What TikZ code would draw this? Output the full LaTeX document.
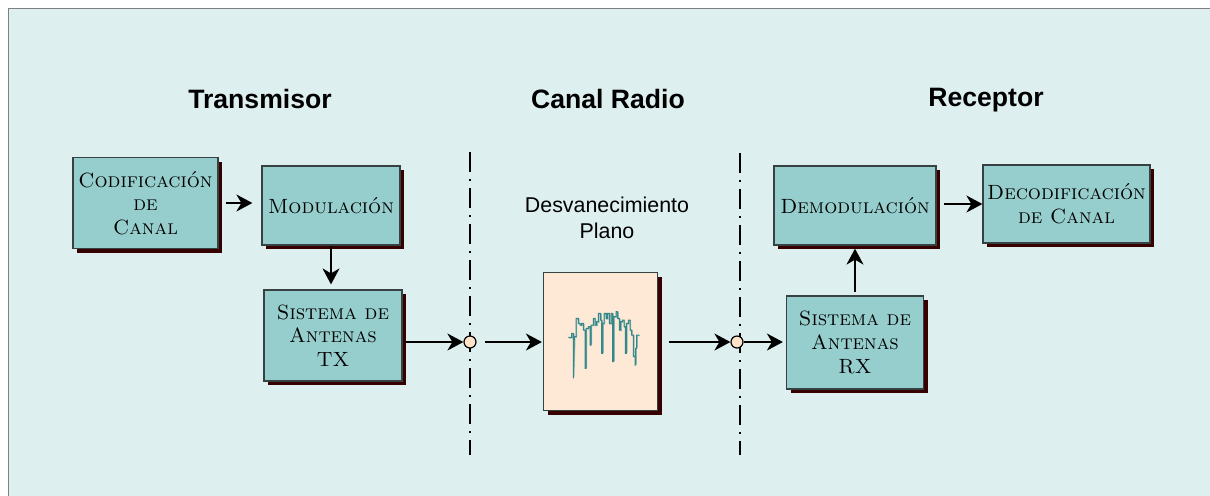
\documentclass[tikz,border=0pt]{standalone}
\usepackage{fontspec}
\newfontfamily\sansfuente{Liberation Sans}
\usepackage{xcolor}
\usepackage{tikz}
\usetikzlibrary{positioning,calc,shadows,arrows.meta}
\definecolor{FondoCanal}{RGB}{222,239,239}

\begin{document}
\begin{tikzpicture}[x=0.5pt, y=-0.5pt,
					bloque/.style={
						draw=borde,
						fill=verdeagua,
						line width=0.6pt,
						inner sep=0pt,
						align=center,
						font=\fontsize{10.3}{11.8}\selectfont,
						drop shadow={shadow xshift=2pt, shadow yshift=-2pt, fill=sombra, opacity=1}
					},
					flecha/.style={draw=black, line width=0.9pt, -{Stealth[length=8pt, width=8.5pt, inset=2.5pt]}},
					union/.style={circle, draw=black, fill=durazno, line width=0.6pt, minimum size=6pt, inner sep=0pt},
					divisor/.style={line width=0.8pt, dash pattern=on 10pt off 3.5pt on 1pt off 3.5pt},
					titulo/.style={font=\sansfuente\bfseries\fontsize{13.3}{15}\selectfont}
					]
					\definecolor{verdeagua}{RGB}{150,205,205}
					\definecolor{borde}{RGB}{55,65,65}
					\definecolor{sombra}{RGB}{55,0,0}
					\definecolor{durazno}{RGB}{255,226,200}
					\definecolor{piel}{RGB}{253,233,214}
					\definecolor{senal}{RGB}{55,135,135}
					
					\useasboundingbox (0,0) rectangle (1210,495);
					\draw[fill=FondoCanal, draw=gray, line width=0.5pt] (8,8) rectangle (1220,505);
					
					% titulos
					\node[titulo] (ttx) at (260,99) {Transmisor};
					\node[titulo] (tcanal) at (608,99) {Canal Radio};
					\node[titulo] (trx) at (986,100) {Receptor};
					
					\node[bloque, minimum width=72.5pt, minimum height=45.5pt] (cod) at (145.5,203) {\textsc{Codificación}\\\textsc{de}\\\textsc{Canal}};
					\node[bloque, minimum width=69pt, minimum height=39.5pt] (mod) at (331,205.5) {\textsc{Modulación}};
					\node[bloque, minimum width=69pt, minimum height=45.5pt] (stx) at (333,335.5) {\textsc{Sistema de}\\\textsc{Antenas}\\\textsc{TX}};
					
					\node[font=\sansfuente\fontsize{10.7}{12.8}\selectfont, align=center] (desv) at (607,218) {Desvanecimiento\\Plano};
					\node[bloque, fill=piel, minimum width=57pt, minimum height=69pt] (canal) at (600.5,341.5) {};
					
					\node[bloque, minimum width=68.5pt, minimum height=46.5pt] (srx) at (855,342.5) {\textsc{Sistema de}\\\textsc{Antenas}\\\textsc{RX}};
					\node[bloque, minimum width=81pt, minimum height=39.5pt] (dem) at (855,205.5) {\textsc{Demodulación}};
					\node[bloque, minimum width=83.5pt, minimum height=39pt] (dec) at (1066.5,204) {\textsc{Decodificación}\\\textsc{de Canal}};
					
					% lineas de separacion
					\coordinate (d1a) at (470,152);
					\coordinate (d1b) at (470,455);
					\coordinate (d2a) at (740,153);
					\coordinate (d2b) at (740,455);
					\draw[divisor] (d1a) -- (d1b);
					\draw[divisor] (d2a) -- (d2b);
					
					\node[union] (j1) at (470,342) {};
					\node[union] (j2) at (737,342) {};
					
					% senal con desvanecimiento
					\begin{scope}[shift={(530,260)}, scale=1/3]
						\draw[senal!55, line width=0.5pt] plot coordinates {(117,234) (127,234) (127,222) (132,222) (132,350) (135,232) (140,232) (140,177) (147,177) (147,192) (152,192) (152,197) (157,197) (157,192) (162,192) (162,212) (167,212) (167,322) (170,322) (170,207) (177,207) (177,202) (182,202) (182,252) (185,252) (185,197) (192,197) (192,177) (197,177) (197,197) (202,197) (202,187) (207,187) (207,162) (214,162) (214,182) (217,182) (217,277) (220,277) (220,192) (224,192) (224,162) (230,162) (230,177) (234,177) (234,162) (240,162) (240,192) (245,192) (245,162) (250,162) (250,302) (253,302) (253,172) (260,172) (260,157) (265,157) (265,177) (270,177) (270,212) (274,212) (274,187) (279,187) (279,182) (284,182) (284,202) (288,202) (288,277) (291,277) (291,192) (297,192) (297,182) (302,182) (302,212) (307,212) (307,227) (312,227) (312,287) (317,287) (317,312) (319,312) (319,262) (322,262) (322,227) (330,227)};
						\draw[senal, line width=0.5pt] plot coordinates {(115,232) (125,232) (125,220) (130,220) (130,355) (133,230) (138,230) (138,175) (145,175) (145,190) (150,190) (150,195) (155,195) (155,190) (160,190) (160,210) (165,210) (165,325) (168,325) (168,205) (175,205) (175,200) (180,200) (180,255) (183,255) (183,195) (190,195) (190,175) (195,175) (195,195) (200,195) (200,185) (205,185) (205,160) (212,160) (212,180) (215,180) (215,280) (218,280) (218,190) (222,190) (222,160) (228,160) (228,175) (232,175) (232,160) (238,160) (238,190) (243,190) (243,160) (248,160) (248,305) (251,305) (251,170) (258,170) (258,155) (263,155) (263,175) (268,175) (268,210) (272,210) (272,185) (277,185) (277,180) (282,180) (282,200) (286,200) (286,280) (289,280) (289,190) (295,190) (295,180) (300,180) (300,210) (305,210) (305,225) (310,225) (310,290) (315,290) (315,315) (317,315) (317,265) (320,265) (320,225) (328,225)};
					\end{scope}
					
					\draw[flecha, shorten <=3.5pt, shorten >=4.5pt] (cod.east) -- (cod.east -| mod.west);
					\draw[flecha, shorten >=2.5pt] (mod.south) -- (mod.south |- stx.north);
					\draw[flecha, shorten <=1.5pt] (stx.east |- j1) -- (j1.west);
					\draw[flecha, shorten <=4pt, shorten >=0.5pt] (j1.east) -- (canal.west |- j1);
					\draw[flecha, shorten <=5.5pt] (canal.east |- j2) -- (j2.west);
					\draw[flecha, shorten >=1.5pt] (j2.east) -- (srx.west |- j2);
					\draw[flecha, shorten <=1.5pt, shorten >=1.5pt] (srx.north) -- (srx.north |- dem.south);
					\draw[flecha, shorten <=3.5pt] (dem.east |- dec.west) -- (dec.west);
				\end{tikzpicture}
\end{document}
